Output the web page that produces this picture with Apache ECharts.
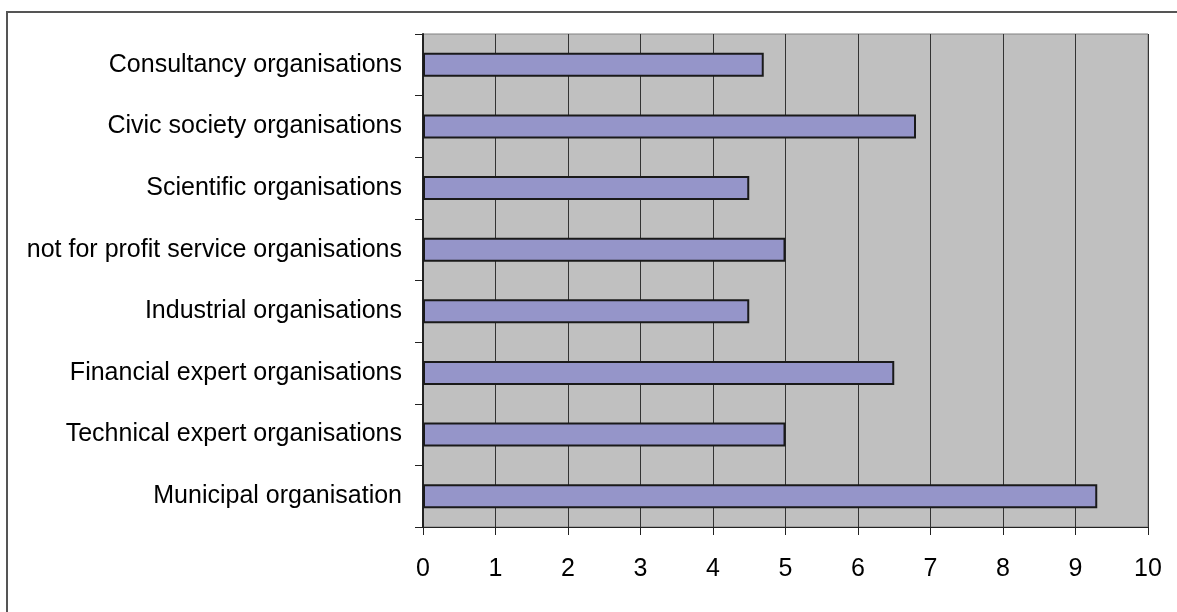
<!DOCTYPE html>
<html>
<head>
<meta charset="utf-8">
<script src="https://cdn.jsdelivr.net/npm/echarts@6/dist/echarts.min.js"></script>
<style>
html,body{margin:0;padding:0;background:#fff;}
#chart{width:1177px;height:612px;}
</style>
</head>
<body>
<div id="chart"></div>
<script>
const categories = [
  "Consultancy organisations",
  "Civic society organisations",
  "Scientific organisations",
  "not for profit service organisations",
  "Industrial organisations",
  "Financial expert organisations",
  "Technical expert organisations",
  "Municipal organisation"
];
const values = [4.7, 6.8, 4.5, 5.0, 4.5, 6.5, 5.0, 9.3];
const xTicks = [0, 1, 2, 3, 4, 5, 6, 7, 8, 9, 10];

const chart = echarts.init(document.getElementById('chart'));
const font = 'Liberation Sans, Arial, sans-serif';
chart.setOption({
  animation: false,
  backgroundColor: '#fff',
  graphic: [{
    type: 'rect',
    shape: { x: 7, y: 12, width: 1300, height: 700 },
    style: { fill: 'none', stroke: '#555', lineWidth: 2 },
    silent: true
  }],
  grid: {
    left: 423, right: 29, top: 34, bottom: 85,
    show: true, backgroundColor: '#C0C0C0', borderColor: '#808080', borderWidth: 1
  },
  xAxis: {
    type: 'value', min: xTicks[0], max: xTicks[xTicks.length - 1], interval: 1,
    axisLine: { show: true, lineStyle: { color: '#222', width: 1 } },
    axisTick: { show: true, length: 8, lineStyle: { color: '#222' } },
    splitLine: { show: true, lineStyle: { color: '#333', width: 1 } },
    axisLabel: { color: '#000', fontFamily: font, fontSize: 25, margin: 30 }
  },
  yAxis: {
    type: 'category', data: categories, inverse: true,
    axisLine: { show: true, lineStyle: { color: '#222', width: 2 } },
    axisTick: { show: true, length: 8, lineStyle: { color: '#222' } },
    axisLabel: { color: '#000', fontFamily: font, fontSize: 25, margin: 21 }
  },
  series: [{
    type: 'bar', data: values, barCategoryGap: '61%',
    itemStyle: { color: '#9595C9', borderColor: '#1a1a1a', borderWidth: 2 }
  }]
});
</script>
</body>
</html>
